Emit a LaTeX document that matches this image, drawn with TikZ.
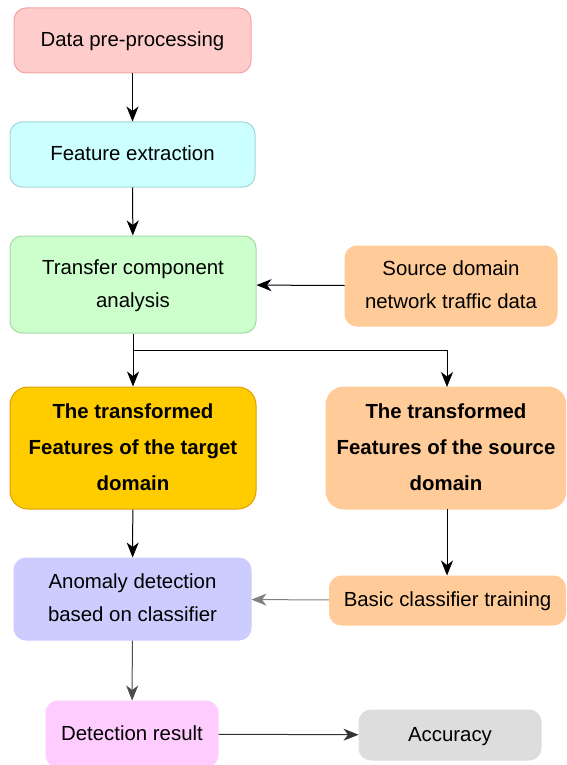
\documentclass[tikz,border=0pt]{standalone}
\usepackage{fontspec}
\setmainfont{Liberation Sans}
\usetikzlibrary{arrows.meta}
\definecolor{cPink}{HTML}{FFCCCC}\definecolor{sPink}{HTML}{F2A4A4}
\definecolor{cCyan}{HTML}{CCFFFF}\definecolor{sCyan}{HTML}{A6D6D6}
\definecolor{cGreen}{HTML}{CCFFCC}\definecolor{sGreen}{HTML}{A8D9A8}
\definecolor{cPeach}{HTML}{FFCC99}
\definecolor{cGold}{HTML}{FFCC00}\definecolor{sGold}{HTML}{E0A000}
\definecolor{cLav}{HTML}{CCCCFF}
\definecolor{cMag}{HTML}{FFCCFF}
\definecolor{cGray}{HTML}{DDDDDD}
\definecolor{aGray}{HTML}{808080}
\tikzset{
  box/.style={rectangle, rounded corners=12pt, align=center, line width=1pt, inner sep=2pt,
    text depth=2pt, font=\fontsize{20.4}{33}\selectfont},
  bbox/.style={box, rounded corners=18pt, font=\fontsize{20.4}{36}\selectfont\bfseries},
  arr/.style={draw=black, line width=1pt, -{Stealth[length=15pt,width=12pt,inset=4.5pt]}},
}
\begin{document}
\begin{tikzpicture}[x=1pt,y=-1pt]
\useasboundingbox (0,0) rectangle (566,765);
\clip (0,0) rectangle (566,765);
\node[box, fill=cPink, draw=sPink, minimum width=237pt, minimum height=65pt] (n1) at (132.5,40.5) {Data pre-processing};
\node[box, fill=cCyan, draw=sCyan, minimum width=245pt, minimum height=65pt] (n2) at (132.5,154.5) {Feature extraction};
\node[box, fill=cGreen, draw=sGreen, minimum width=246pt, minimum height=97pt] (n3) at (133,284.5) {Transfer component\\analysis};
\node[box, fill=cPeach, draw=cPeach, minimum width=212pt, minimum height=80pt] (n4) at (451,286) {Source domain\\network traffic data};
\node[bbox, fill=cGold, draw=sGold, minimum width=246pt, minimum height=122pt] (n5) at (133,448) {The transformed\\Features of the target\\domain};
\node[bbox, fill=cPeach, draw=cPeach, minimum width=240pt, minimum height=122pt] (n6) at (446,448) {The transformed\\Features of the source\\domain};
\node[box, fill=cLav, draw=cLav, minimum width=237pt, minimum height=82pt] (n7) at (132.5,599) {Anomaly detection\\based on classifier};
\node[box, fill=cPeach, draw=cPeach, minimum width=236pt, minimum height=49pt] (n8) at (447.5,600.5) {Basic classifier training};
\node[box, fill=cMag, draw=cMag, minimum width=172pt, minimum height=66pt] (n9) at (132,734) {Detection result};
\node[box, fill=cGray, draw=cGray, minimum width=182pt, minimum height=50pt] (n10) at (450,735) {Accuracy};
\coordinate (j) at (133,350);
\draw[arr] (n1) -- (n2);
\draw[arr] (n2) -- (n3);
\draw[arr] (n4) -- (n3);
\draw[arr] (n3) -- (n5);
\draw[arr] (n3.south) -- (j) -| (447,387);
\draw[arr] (n5) -- (n7);
\draw[arr] (447,509) -- (n8.north -| 447,0);
\draw[arr, draw=aGray] (n8) -- (n7);
\draw[arr, draw=black!70] (n7) -- (n9);
\draw[arr, draw=black!80] (n9) -- (n10);
\end{tikzpicture}
\end{document}
